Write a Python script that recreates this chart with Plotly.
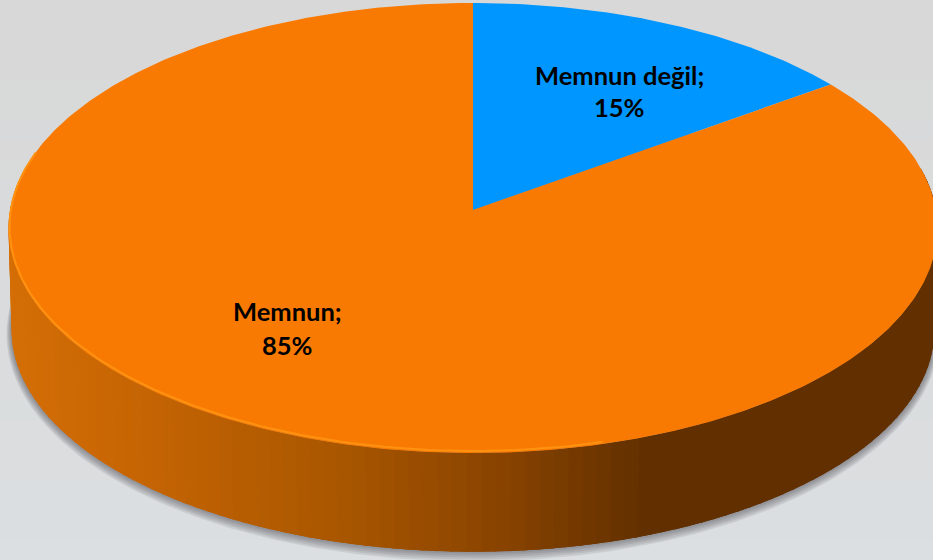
import numpy as np
import plotly.graph_objects as go

# data
categories = ["Memnun değil", "Memnun"]
shares = [15, 85]
slice_colors = ["#0096FF", "#F97A03"]

# geometry of the tilted disc, in pixels
W, H = 933, 560
CX, CY = 473, 210
AX, AY = 463, 223.6
K = 0.08
DEPTH = 102
BASE_GROW = -3

# side shading: x position -> colour
ramp_x = [12, 120, 340, 480, 640, 933]
ramp_r = [212, 200, 168, 140, 98, 98]
ramp_g = [110, 102, 86, 69, 48, 48]
ramp_b = [6, 4, 0, 0, 0, 0]

label_pos = [(619, 75, 107), (287, 311, 345)]


def project(theta, dy=0.0, grow=0.0):
    """theta is clockwise from 12 o'clock on the flat disc."""
    u, v = np.sin(theta), np.cos(theta)
    w = 1 + K * v
    return CX + (AX + grow) * u / w, CY - (AY + grow) * v / w + dy


def poly(x, y, color, line_w=0.0, name=None):
    return go.Scatter(x=list(x), y=list(y), mode="lines", fill="toself", fillcolor=color,
                      line=dict(color=color, width=line_w), hoverinfo="skip",
                      showlegend=False, name=name)


fig = go.Figure()
all_t = np.linspace(0, 2 * np.pi, 361)

# soft shadow beneath the side wall
for g, d in [(5, 4), (4, 3.2), (3, 2.4), (2, 1.6), (1, 0.8)]:
    x, y = project(all_t, DEPTH + d, BASE_GROW + g)
    fig.add_trace(poly(x, y, "rgba(80,80,85,0.13)"))

# side wall: thin overlapping strips, darker to the right
edges = np.linspace(np.radians(80), np.radians(280), 121)
step = edges[1] - edges[0]
for a, b in zip(edges[:-1], edges[1:]):
    t = np.linspace(a - step * 0.6, b + step * 0.6, 4)
    xt, yt = project(t)
    xb, yb = project(t, DEPTH, BASE_GROW)
    mid = float(project((a + b) / 2)[0])
    col = "rgb(%d,%d,%d)" % (np.interp(mid, ramp_x, ramp_r),
                             np.interp(mid, ramp_x, ramp_g),
                             np.interp(mid, ramp_x, ramp_b))
    fig.add_trace(poly(np.r_[xt, xb[::-1]], np.r_[yt, yb[::-1]], col, 0))

# top face: one polygon per share
start = 0.0
total = sum(shares)
for name, value, color in zip(categories, shares, slice_colors):
    stop = start + 2 * np.pi * value / total
    t = np.linspace(start, stop, max(int(value * 6), 30))
    x, y = project(t)
    fig.add_trace(poly(np.r_[CX, x, CX], np.r_[CY, y, CY], color, name=name))
    start = stop

# lighter bevel along the lower left rim
t = np.radians(np.linspace(165, 285, 120))
x, y = project(t, -1, -1)
fig.add_trace(go.Scatter(x=x, y=y, mode="lines", line=dict(color="#FF9210", width=2),
                         hoverinfo="skip", showlegend=False))

# background bands
shapes = []
n_bands = 28
for i in range(n_bands):
    f = i / (n_bands - 1)
    c = "rgb(%d,%d,%d)" % (216 + 4 * f, 216 + 7 * f, 216 + 9 * f)
    shapes.append(dict(type="rect", xref="x", yref="y", layer="below", x0=0, x1=W,
                       y0=H * i / n_bands, y1=H * (i + 1) / n_bands,
                       fillcolor=c, line=dict(width=0)))

annotations = []
for (name, value, (lx, y1, y2)) in zip(categories, shares, label_pos):
    for txt, yy in ((f"{name};", y1), (f"{value}%", y2)):
        annotations.append(dict(x=lx, y=yy, xref="x", yref="y", text=f"<b>{txt}</b>", showarrow=False,
                                font=dict(family="Lato", size=25.5, color="#000000")))

fig.update_layout(
    width=W, height=H, margin=dict(l=0, r=0, t=0, b=0), autosize=False,
    paper_bgcolor="#DADCDE", plot_bgcolor="#DADCDE", showlegend=False,
    xaxis=dict(range=[0, W], visible=False, fixedrange=True),
    yaxis=dict(range=[H, 0], visible=False, fixedrange=True),
    shapes=shapes, annotations=annotations,
)
fig.write_html("out.html", config={"displayModeBar": False},
               post_script="document.body.style.margin='0';document.body.style.overflow='hidden';document.body.style.background='#DADCDE';")
